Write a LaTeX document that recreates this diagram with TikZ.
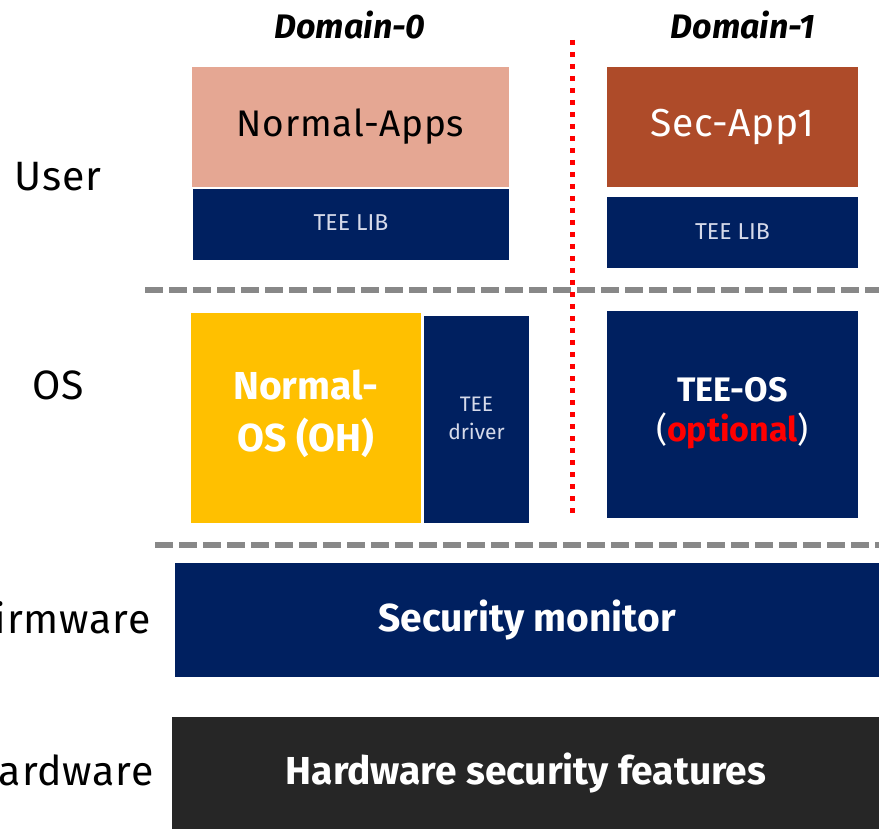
\documentclass[tikz,border=0pt]{standalone}
\usepackage{fontspec}
\setmainfont{Fira Sans}
\definecolor{salmon}{HTML}{E5A793}
\definecolor{rust}{HTML}{AE4B29}
\definecolor{navy}{HTML}{002060}
\definecolor{gold}{HTML}{FFC000}
\definecolor{darkbox}{HTML}{262626}
\definecolor{sepgray}{HTML}{888888}
\definecolor{libtext}{HTML}{D6DAEA}
\begin{document}
\begin{tikzpicture}[x=1pt,y=-1pt,
  box/.style={draw=none,inner sep=0pt,align=center},
  layerlbl/.style={font=\fontsize{41}{44}\selectfont\addfontfeature{LetterSpace=2},text=black},
  domlbl/.style={font=\fontsize{34}{36}\selectfont\bfseries\itshape},
  sep/.style={draw=sepgray,line width=5.5pt,dash pattern=on 18pt off 6pt},
  trust/.style={draw=red,line width=5pt,dash pattern=on 5pt off 7pt}]
\useasboundingbox (0,0) rectangle (879,829);
% domain labels
\node[domlbl] (d0) at (350,25) {Domain-0};
\node[domlbl] (d1) at (743,25) {Domain-1};
% layer labels
\node[layerlbl] (user) at (58,177) {User};
\node[layerlbl] (os) at (58,385) {OS};
\node[layerlbl,anchor=east] (fw) at (154,618) {Firmware};
\node[layerlbl,anchor=east] (hw) at (157,770) {Hardware};
% separators
\coordinate (s1a) at (145,290); \coordinate (s1b) at (879,290);
\coordinate (s2a) at (155,545); \coordinate (s2b) at (879,545);
\draw[sep] (s1a) -- (s1b);
\draw[sep] (s2a) -- (s2b);
% Domain-0 user
\fill[salmon] (192,67) rectangle (509,187);
\node[box,font=\fontsize{37}{40}\selectfont\addfontfeature{LetterSpace=2}] (napps) at (350.5,127) {Normal-Apps};
\fill[navy] (193,189) rectangle (509,260);
\node[box,text=libtext,font=\fontsize{23}{26}\selectfont] (lib0) at (351,223) {TEE LIB};
% Domain-1 user
\fill[rust] (607,67) rectangle (858,187);
\node[box,text=white,font=\fontsize{39}{42}\selectfont\addfontfeature{LetterSpace=2}] (sapp) at (732.5,127) {Sec-App1};
\fill[navy] (607,197) rectangle (858,268);
\node[box,text=libtext,font=\fontsize{23}{26}\selectfont] (lib1) at (732.5,232) {TEE LIB};
% OS
\fill[gold] (191,313) rectangle (421,523);
\node[box,text=white,font=\fontsize{39}{52}\selectfont\bfseries] (nos) at (306,414) {Normal-\\OS (OH)};
\fill[navy] (424,316) rectangle (529,523);
\node[box,text=libtext,font=\fontsize{21}{28}\selectfont] (drv) at (476.5,418) {TEE\\driver};
\fill[navy] (607,311) rectangle (858,518);
\node[box,text=white,font=\fontsize{34}{40}\selectfont] (teeos) at (732.5,413) {\textbf{TEE-OS}\\(\textcolor{red}{\textbf{optional}})};
% firmware / hardware
\fill[navy] (175,563) rectangle (879,677);
\node[box,text=white,font=\fontsize{39}{42}\selectfont\bfseries] (mon) at (527,620) {Security monitor};
\fill[darkbox] (172,717) rectangle (879,829);
\node[box,text=white,font=\fontsize{39}{42}\selectfont\bfseries] (hwf) at (526,773) {Hardware security features};
% trust boundary
\coordinate (ta) at (572,40); \coordinate (tb) at (572,515);
\draw[trust] (ta) -- (tb);
\end{tikzpicture}
\end{document}
